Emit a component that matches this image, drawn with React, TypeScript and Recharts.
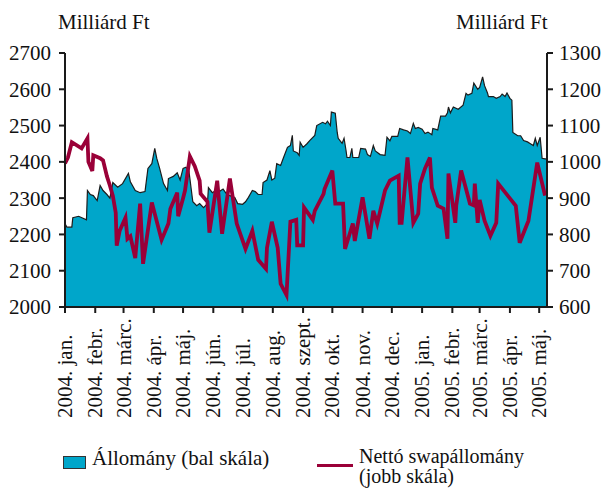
import { ComposedChart, Area, Line, XAxis, YAxis } from 'recharts'

// napok 2004. jan. 1-től
const monthStarts = [0, 31, 60, 91, 121, 152, 182, 213, 244, 274, 305, 335, 366, 397, 425, 456, 486]
const monthLabels = [
  '2004. jan.', '2004. febr.', '2004. márc.', '2004. ápr.', '2004. máj.', '2004. jún.',
  '2004. júl.', '2004. aug.', '2004. szept.', '2004. okt.', '2004. nov.', '2004. dec.',
  '2005. jan.', '2005. febr.', '2005. márc.', '2005. ápr.', '2005. máj.',
]
const leftTicks = [2000, 2100, 2200, 2300, 2400, 2500, 2600, 2700]
const rightTicks = [600, 700, 800, 900, 1000, 1100, 1200, 1300]

// Állomány (bal skála), milliárd Ft
const stockDays = [
  0, 2, 7, 8, 14, 22, 23, 26, 29, 31, 33, 36, 39, 43, 46, 49, 54, 59, 65, 67, 72, 77, 82, 85, 89, 92, 94, 97,
  101, 105, 106, 111, 115, 118, 121, 124, 127, 131, 135, 138, 142, 146, 147, 151, 154, 156, 159, 162, 166, 171,
  174, 177, 182, 185, 188, 192, 195, 198, 202, 203, 207, 210, 212, 215, 217, 221, 224, 228, 231, 233, 234, 238,
  240, 241, 244, 248, 251, 256, 258, 264, 267, 269, 272, 273, 277, 279, 280, 284, 286, 288, 289, 292, 294, 295,
  301, 303, 308, 310, 313, 316, 318, 323, 328, 330, 333, 335, 341, 343, 347, 351, 354, 357, 359, 362, 366, 369,
  372, 376, 377, 382, 385, 390, 392, 393, 395, 398, 403, 408, 411, 413, 417, 419, 423, 425, 428, 430, 433, 434,
  439, 442, 446, 448, 451, 453, 456, 458, 459, 464, 467, 470, 474, 477, 480, 482, 484, 487, 489, 492, 494,
]
const stockValues = [
  2230, 2220, 2220, 2246, 2250, 2240, 2321, 2310, 2307, 2300, 2293, 2335, 2321, 2310, 2300, 2343, 2330, 2340,
  2368, 2345, 2321, 2315, 2318, 2382, 2395, 2437, 2410, 2382, 2340, 2321, 2354, 2360, 2370, 2350, 2382, 2385,
  2375, 2290, 2279, 2285, 2274, 2285, 2329, 2315, 2320, 2310, 2320, 2325, 2310, 2305, 2302, 2285, 2283, 2290,
  2302, 2321, 2318, 2310, 2310, 2343, 2350, 2376, 2350, 2355, 2395, 2390, 2412, 2440, 2445, 2473, 2430, 2425,
  2418, 2454, 2440, 2450, 2459, 2473, 2500, 2509, 2505, 2512, 2500, 2537, 2534, 2481, 2465, 2451, 2465, 2432,
  2412, 2412, 2437, 2412, 2412, 2437, 2435, 2420, 2415, 2445, 2430, 2420, 2418, 2468, 2458, 2470, 2470, 2492,
  2488, 2485, 2478, 2506, 2492, 2495, 2490, 2478, 2482, 2475, 2492, 2488, 2526, 2526, 2535, 2551, 2535, 2551,
  2545, 2556, 2589, 2584, 2589, 2617, 2600, 2605, 2634, 2610, 2590, 2580, 2580, 2575, 2580, 2587, 2580, 2590,
  2575, 2570, 2481, 2472, 2472, 2459, 2455, 2450, 2445, 2465, 2445, 2468, 2410, 2408, 2408,
]

// Nettó swapállomány (jobb skála)
const swapDays = [
  0, 3, 7, 17, 23, 24, 28, 29, 36, 39, 43, 46, 49, 52, 53, 56, 62, 64, 67, 72, 77, 80, 89, 99, 106, 108, 115,
  116, 121, 123, 128, 133, 138, 139, 146, 148, 156, 161, 169, 176, 185, 192, 198, 206, 207, 212, 218, 221, 227,
  231, 237, 238, 244, 245, 254, 256, 265, 266, 274, 277, 285, 287, 295, 297, 305, 312, 316, 320, 328, 333, 342,
  343, 345, 351, 357, 362, 364, 369, 374, 376, 382, 388, 392, 393, 400, 401, 406, 415, 419, 420, 423, 425, 430,
  436, 442, 444, 462, 466, 475, 484, 492,
]
const swapValues = [
  996, 1012, 1054, 1037, 1065, 1000, 975, 1018, 1010, 1004, 960, 935, 907, 860, 769, 810, 846, 788, 795, 735,
  885, 719, 888, 785, 830, 871, 915, 850, 900, 921, 1015, 988, 948, 912, 890, 805, 948, 802, 954, 830, 760, 810,
  730, 705, 763, 835, 763, 664, 633, 835, 840, 770, 770, 874, 840, 865, 912, 925, 976, 885, 885, 760, 830, 782,
  902, 788, 865, 830, 921, 948, 962, 832, 832, 1012, 832, 857, 940, 982, 1012, 929, 879, 871, 788, 968, 832, 880,
  976, 885, 880, 940, 832, 895, 838, 796, 832, 940, 879, 777, 838, 998, 907,
]

type Row = { d: number; stock?: number; swap?: number }
const byDay = new Map<number, Row>()
stockDays.forEach((d, i) => byDay.set(d, { ...(byDay.get(d) ?? { d }), stock: stockValues[i] }))
swapDays.forEach((d, i) => byDay.set(d, { ...(byDay.get(d) ?? { d }), swap: swapValues[i] }))
const data = [...byDay.values()].sort((a, b) => a.d - b.d)

const font = '"Liberation Serif", "Times New Roman", serif'
const teal = '#00a6ca'
const wine = '#9a0038'

function MonthTick({ x, payload }: any) {
  const label = monthLabels[monthStarts.indexOf(payload.value)]
  return (
    <text
      transform={`translate(${x},418) rotate(-90)`}
      dy="0.34em"
      textAnchor="start"
      fontSize={21}
      fontFamily={font}
      fill="#111"
    >
      {label}
    </text>
  )
}

export default function App() {
  const tick = { fontSize: 21, fontFamily: font, fill: '#111' }
  const axis = { stroke: '#1a1a1a', strokeWidth: 2 }
  return (
    <div style={{ position: 'absolute', left: 0, top: 0, width: 606, height: 488, overflow: 'hidden', background: '#fff', fontFamily: font, color: '#111' }}>
      <div style={{ position: 'absolute', left: 58, top: 12, fontSize: 21, lineHeight: '21px' }}>Milliárd Ft</div>
      <div style={{ position: 'absolute', left: 456, top: 12, fontSize: 21, lineHeight: '21px' }}>Milliárd Ft</div>

      <ComposedChart width={606} height={488} data={data} margin={{ top: 53, right: 0, bottom: 51, left: 0 }}>
        <XAxis
          dataKey="d"
          type="number"
          domain={[0, 494]}
          ticks={monthStarts}
          tick={<MonthTick />}
          interval={0}
          height={130}
          tickSize={6}
          axisLine={axis}
          tickLine={axis}
        />
        <YAxis
          yAxisId="left"
          orientation="left"
          width={65}
          domain={[2000, 2700]}
          ticks={leftTicks}
          interval={0}
          tickSize={6}
          tickMargin={8}
          tick={tick}
          axisLine={axis}
          tickLine={axis}
        />
        <YAxis
          yAxisId="right"
          orientation="right"
          width={59}
          domain={[600, 1300]}
          ticks={rightTicks}
          interval={0}
          tickSize={6}
          tickMargin={6}
          tick={tick}
          axisLine={axis}
          tickLine={axis}
        />
        <Area
          yAxisId="left"
          type="linear"
          dataKey="stock"
          connectNulls
          fill={teal}
          fillOpacity={1}
          stroke="#1c1c1c"
          strokeWidth={1.2}
          dot={false}
          activeDot={false}
          isAnimationActive={false}
        />
        <Line
          yAxisId="right"
          type="linear"
          dataKey="swap"
          connectNulls
          stroke={wine}
          strokeWidth={3.8}
          strokeLinejoin="miter"
          dot={false}
          activeDot={false}
          isAnimationActive={false}
        />
      </ComposedChart>

      <div style={{ position: 'absolute', left: 63, top: 456, width: 21, height: 11, background: teal, border: '1px solid #333' }} />
      <div style={{ position: 'absolute', left: 92, top: 448, fontSize: 21, lineHeight: '20px' }}>Állomány (bal skála)</div>
      <div style={{ position: 'absolute', left: 317, top: 464, width: 36, height: 3, background: wine }} />
      <div style={{ position: 'absolute', left: 359, top: 446, fontSize: 20, lineHeight: '20px', whiteSpace: 'nowrap' }}>
        <div>Nettó swapállomány</div>
        <div>(jobb skála)</div>
      </div>
    </div>
  )
}
